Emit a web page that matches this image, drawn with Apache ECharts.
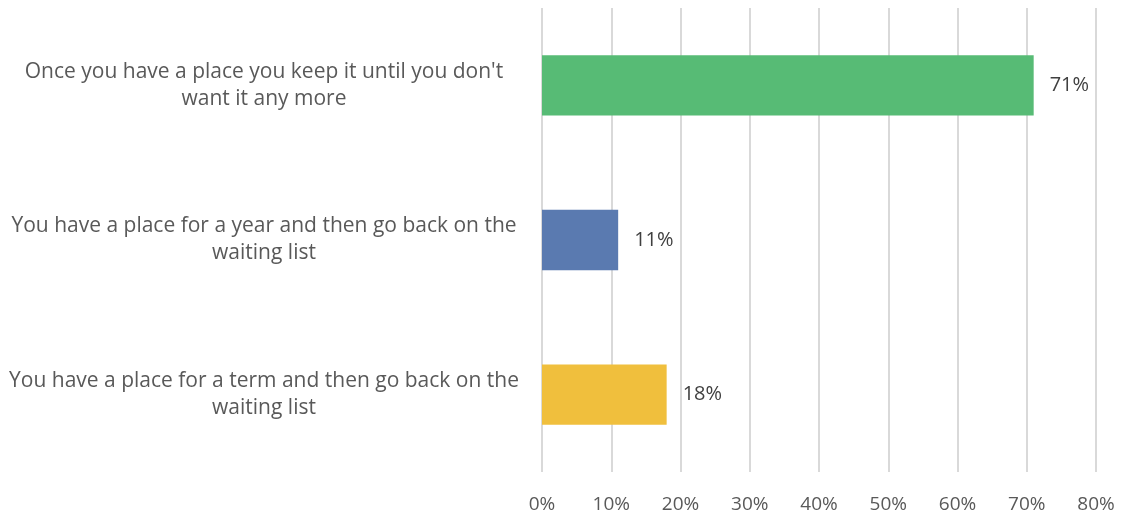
<!DOCTYPE html>
<html>
<head>
<meta charset="utf-8">
<script src="https://cdn.jsdelivr.net/npm/echarts@6/dist/echarts.min.js"></script>
<style>html,body{margin:0;padding:0;background:#fff;}#c{width:1125px;height:522px;}</style>
</head>
<body>
<div id="c"></div>
<script>
const categories = [
  "Once you have a place you keep it until you don't\nwant it any more",
  "You have a place for a year and then go back on the\nwaiting list",
  "You have a place for a term and then go back on the\nwaiting list"
];
const values = [71, 11, 18];
const tickLabels = ["0%","10%","20%","30%","40%","50%","60%","70%","80%"];
const barColors = ["#57BB75", "#5A7AB0", "#F0BF3D"];

const chart = echarts.init(document.getElementById('c'));
const font = "'Open Sans', sans-serif";
chart.setOption({
  animation: false,
  grid: { left: 542, right: 29, top: 8, bottom: 50, containLabel: false },
  xAxis: {
    type: 'value', min: 0, max: 80, interval: 10,
    axisLine: { show: false }, axisTick: { show: false },
    splitLine: { lineStyle: { color: '#D9D9D9', width: 2 } },
    axisLabel: { margin: 23, color: '#595959', fontSize: 19, fontFamily: font,
      formatter: v => tickLabels[Math.round(v / 10)] }
  },
  yAxis: {
    type: 'category', data: categories, inverse: true,
    axisLine: { show: false }, axisTick: { show: false },
    axisLabel: {
      margin: 22, color: '#595959', fontSize: 21, lineHeight: 27, fontFamily: font, align: 'right',
      formatter: v => v.split('\n').map(l => '{c|' + l + '}').join('\n'),
      rich: { c: { width: 512, align: 'center', fontSize: 21, lineHeight: 27, fontFamily: font, color: '#595959' } }
    }
  },
  series: [{
    type: 'bar', barWidth: '39%',
    data: values.map((v, i) => ({ value: v, itemStyle: { color: barColors[i] } })),
    label: { show: true, position: 'right', distance: 16, color: '#404040', fontSize: 20, fontFamily: font,
      formatter: p => p.value + '%' }
  }]
});
</script>
</body>
</html>
